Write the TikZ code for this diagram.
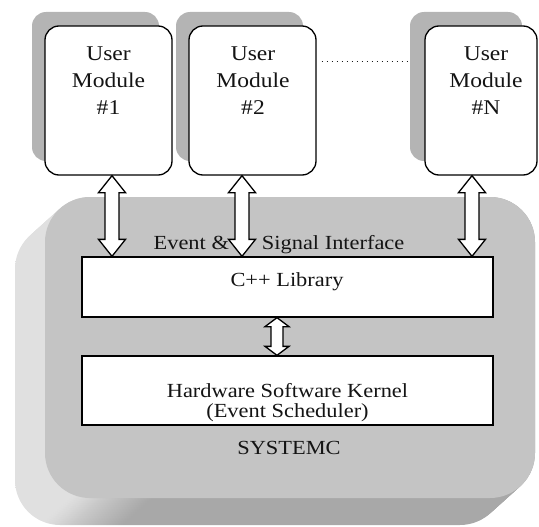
\documentclass[tikz,border=0pt]{standalone}
\usepackage{fontspec}
\setmainfont[FakeStretch=1.12]{Liberation Serif}
\usetikzlibrary{calc}
\definecolor{faceg}{HTML}{C4C4C4}
\definecolor{shadowg}{HTML}{B4B4B4}
\definecolor{bvL}{HTML}{E0E0E0}
\definecolor{bvM}{HTML}{C8C8C8}
\definecolor{bvD}{HTML}{A8A8A8}
\definecolor{txt}{HTML}{141414}
\pgfdeclarehorizontalshading{bevelsh}{100bp}{color(0bp)=(bvL); color(25bp)=(bvL);
  color(28bp)=(bvL); color(31bp)=(bvM); color(36bp)=(bvD); color(100bp)=(bvD)}
\newcommand\blockarrow[5]{%
  \draw[arrowstyle] (#1) -- ++(#4,#5) -- ++({-(#4-#3)},0) -- ($(#2)+(#3,-#5)$)
    -- ++({#4-#3},0) -- (#2) -- ++(-#4,-#5) -- ++({#4-#3},0)
    -- ($(#1)+(-#3,#5)$) -- ++({-(#4-#3)},0) -- cycle;}
\tikzset{
  modbox/.style={draw, line width=1.3pt, fill=white, rounded corners=14pt,
    minimum width=127pt, minimum height=149pt, inner sep=0pt},
  modshadow/.style={fill=shadowg, rounded corners=14pt,
    minimum width=127pt, minimum height=149pt, inner sep=0pt},
  modtext/.style={align=center, font=\fontsize{21}{27}\selectfont, text=txt, inner sep=0pt},
  layerbox/.style={draw, line width=1.3pt, fill=white, minimum width=411pt, inner sep=0pt},
  arrowstyle/.style={draw, line width=1.3pt, fill=white, line join=miter},
  lbl/.style={font=\fontsize{20}{20}\selectfont, text=txt, inner sep=0pt},
  sysface/.style={fill=faceg, rounded corners=45pt, minimum width=490pt,
    minimum height=301pt, inner sep=0pt},
  bevel/.style={shading=bevelsh, rounded corners=45pt},
}
\begin{document}
\begin{tikzpicture}[x=1pt,y=-1pt]
\useasboundingbox (0,0) rectangle (539,527);
% SystemC base (extruded bevel)
\foreach \i in {30,28,...,0}{
  \shade[bevel] ({45-\i},{197+0.9*\i}) rectangle ({535-\i},{498+0.9*\i});
}
\node[sysface] (sys) at (290,347.5) {};
% module shadows
\node[modshadow] (m1s) at (95.5,86.5) {};
\node[modshadow] (m2s) at (239.5,86.5) {};
\node[modshadow, minimum width=112pt] (mNs) at (466,86.5) {};
% modules
\node[modbox] (m1) at (108.5,100.5) {};
\node[modbox] (m2) at (252.5,100.5) {};
\node[modbox, minimum width=112pt] (mN) at (481,100.5) {};
\node[modtext] (m1t) at (108.5,81) {User\\Module\\\#1};
\node[modtext] (m2t) at (253,81) {User\\Module\\\#2};
\node[modtext] (mNt) at (486,81) {User\\Module\\\#N};
% layers
\node[layerbox, minimum height=60pt] (lib) at (287.5,287) {};
\node[layerbox, minimum height=69pt] (ker) at (287.5,390.5) {};
\node[lbl, anchor=base] (libt) at (287,286) {C++ Library};
\node[lbl, align=center] (kert) at (287.5,403) {Hardware Software Kernel\\(Event Scheduler)};
\node[lbl, anchor=base] (ifc) at (279,249) {Event \&\hspace{33pt}Signal Interface};
\node[lbl, anchor=base] (sysl) at (289,454) {SYSTEMC};
% arrows
\coordinate (a1t) at ([xshift=3.5pt]m1.south);
\coordinate (a1b) at (a1t |- lib.north);
\coordinate (a2t) at ([xshift=-10.5pt]m2.south);
\coordinate (a2b) at (a2t |- lib.north);
\coordinate (a3t) at ([xshift=-9pt]mN.south);
\coordinate (a3b) at (a3t |- lib.north);
\coordinate (a4t) at ([xshift=-10.5pt]lib.south);
\coordinate (a4b) at (a4t |- ker.north);
\blockarrow{a1t}{a1b}{7}{13.5}{17}
\blockarrow{a2t}{a2b}{7}{13.5}{17}
\blockarrow{a3t}{a3b}{7}{13.5}{17}
\blockarrow{a4t}{a4b}{6}{12}{9}
% dotted connector
\coordinate (d1) at ($(m2.north east)+(5,36)$);
\draw[line width=1.4pt, dash pattern=on 1.6pt off 3.4pt, black!90] (d1) -- ([xshift=-2pt]mNs.west |- d1);
\end{tikzpicture}
\end{document}
